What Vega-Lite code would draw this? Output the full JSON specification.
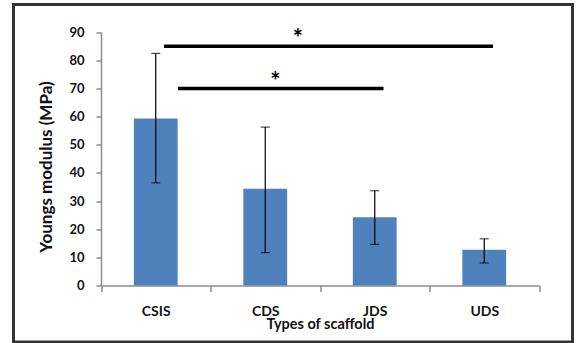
{
  "$schema": "https://vega.github.io/schema/vega-lite/v6.json",
  "autosize": {"type": "none"},
  "padding": {"left": 13.5, "top": 4.5, "right": 3.5, "bottom": 1},
  "width": 559,
  "height": 337.5,
  "background": "white",
  "config": {
    "view": {"stroke": "#333333", "strokeWidth": 3},
    "font": "Lato",
    "axis": {"grid": false}
  },
  "datasets": {
    "bars": [
      {"scaffold": "CSIS", "modulus": 59.4, "lo": 36.5, "hi": 82.5},
      {"scaffold": "CDS", "modulus": 34.4, "lo": 11.7, "hi": 56.3},
      {"scaffold": "JDS", "modulus": 24.3, "lo": 14.6, "hi": 33.7},
      {"scaffold": "UDS", "modulus": 12.7, "lo": 8.0, "hi": 16.6}
    ]
  },
  "data": {"name": "bars"},
  "encoding": {
    "x": {
      "field": "scaffold",
      "type": "nominal",
      "scale": {"domain": ["CSIS", "CDS", "JDS", "UDS"], "range": [87.5, 525.5], "paddingInner": 0, "paddingOuter": 0},
      "axis": {
        "title": "Types of scaffold",
        "offset": -56.5,
        "labelAngle": 0,
        "labelFont": "Lato",
        "labelFontSize": 14,
        "labelFontWeight": "bold",
        "labelColor": "#111111",
        "labelPadding": 12.5,
        "labelBaseline": "top",
        "tickSize": 6,
        "tickColor": "#8c8c8c",
        "tickWidth": 1.5,
        "tickBand": "extent",
        "domainColor": "#8c8c8c",
        "domainWidth": 1.5,
        "titleFont": "Lato",
        "titleFontSize": 14.5,
        "titleFontWeight": "bold",
        "titleColor": "#111111",
        "titleBaseline": "alphabetic",
        "titleY": 43
      }
    },
    "y": {
      "field": "modulus",
      "type": "quantitative",
      "scale": {"domain": [0, 90], "range": [281, 27.8], "nice": false, "zero": true},
      "axis": {
        "title": "Youngs modulus (MPa)",
        "offset": -87.5,
        "values": [0, 10, 20, 30, 40, 50, 60, 70, 80, 90],
        "labelFont": "Lato",
        "labelFontSize": 13,
        "labelFontWeight": "bold",
        "labelColor": "#111111",
        "labelPadding": 12,
        "tickSize": 5,
        "tickColor": "#8c8c8c",
        "tickWidth": 1.5,
        "domainColor": "#8c8c8c",
        "domainWidth": 1.5,
        "titleFont": "Lato",
        "titleFontSize": 17,
        "titleFontWeight": "bold",
        "titleColor": "#111111",
        "titlePadding": 13,
        "titleY": 162
      }
    }
  },
  "layer": [
    {
      "mark": {"type": "bar", "color": "#4F81BD", "width": {"band": 0.4}}
    },
    {
      "mark": {"type": "rule", "color": "black", "strokeWidth": 1.2},
      "encoding": {
        "y": {"field": "lo", "type": "quantitative"},
        "y2": {"field": "hi"}
      }
    },
    {
      "mark": {"type": "tick", "color": "black", "thickness": 1.2, "size": 9},
      "encoding": {"y": {"field": "hi", "type": "quantitative"}}
    },
    {
      "mark": {"type": "tick", "color": "black", "thickness": 1.2, "size": 9},
      "encoding": {"y": {"field": "lo", "type": "quantitative"}}
    },
    {
      "data": {"values": [{"from": "CSIS", "to": "UDS", "level": 85}]},
      "mark": {"type": "rule", "color": "black", "strokeWidth": 3.5, "xOffset": 8.25, "x2Offset": 8.75},
      "encoding": {
        "x": {"field": "from", "type": "nominal"},
        "x2": {"field": "to"},
        "y": {"field": "level", "type": "quantitative"}
      }
    },
    {
      "data": {"values": [{"from": "CSIS", "to": "JDS", "level": 70}]},
      "mark": {"type": "rule", "color": "black", "strokeWidth": 3.5, "xOffset": 22.25, "x2Offset": 8.75},
      "encoding": {
        "x": {"field": "from", "type": "nominal"},
        "x2": {"field": "to"},
        "y": {"field": "level", "type": "quantitative"}
      }
    },
    {
      "data": {"values": [{"at": "CDS", "level": 89.4, "label": "*"}]},
      "mark": {"type": "text", "font": "Lato", "fontWeight": "bold", "fontSize": 24, "color": "black", "baseline": "middle", "dx": 32.5, "dy": 6},
      "encoding": {
        "x": {"field": "at", "type": "nominal"},
        "y": {"field": "level", "type": "quantitative"},
        "text": {"field": "label"}
      }
    },
    {
      "data": {"values": [{"at": "CDS", "level": 74.0, "label": "*"}]},
      "mark": {"type": "text", "font": "Lato", "fontWeight": "bold", "fontSize": 24, "color": "black", "baseline": "middle", "dx": 10, "dy": 6},
      "encoding": {
        "x": {"field": "at", "type": "nominal"},
        "y": {"field": "level", "type": "quantitative"},
        "text": {"field": "label"}
      }
    }
  ]
}
